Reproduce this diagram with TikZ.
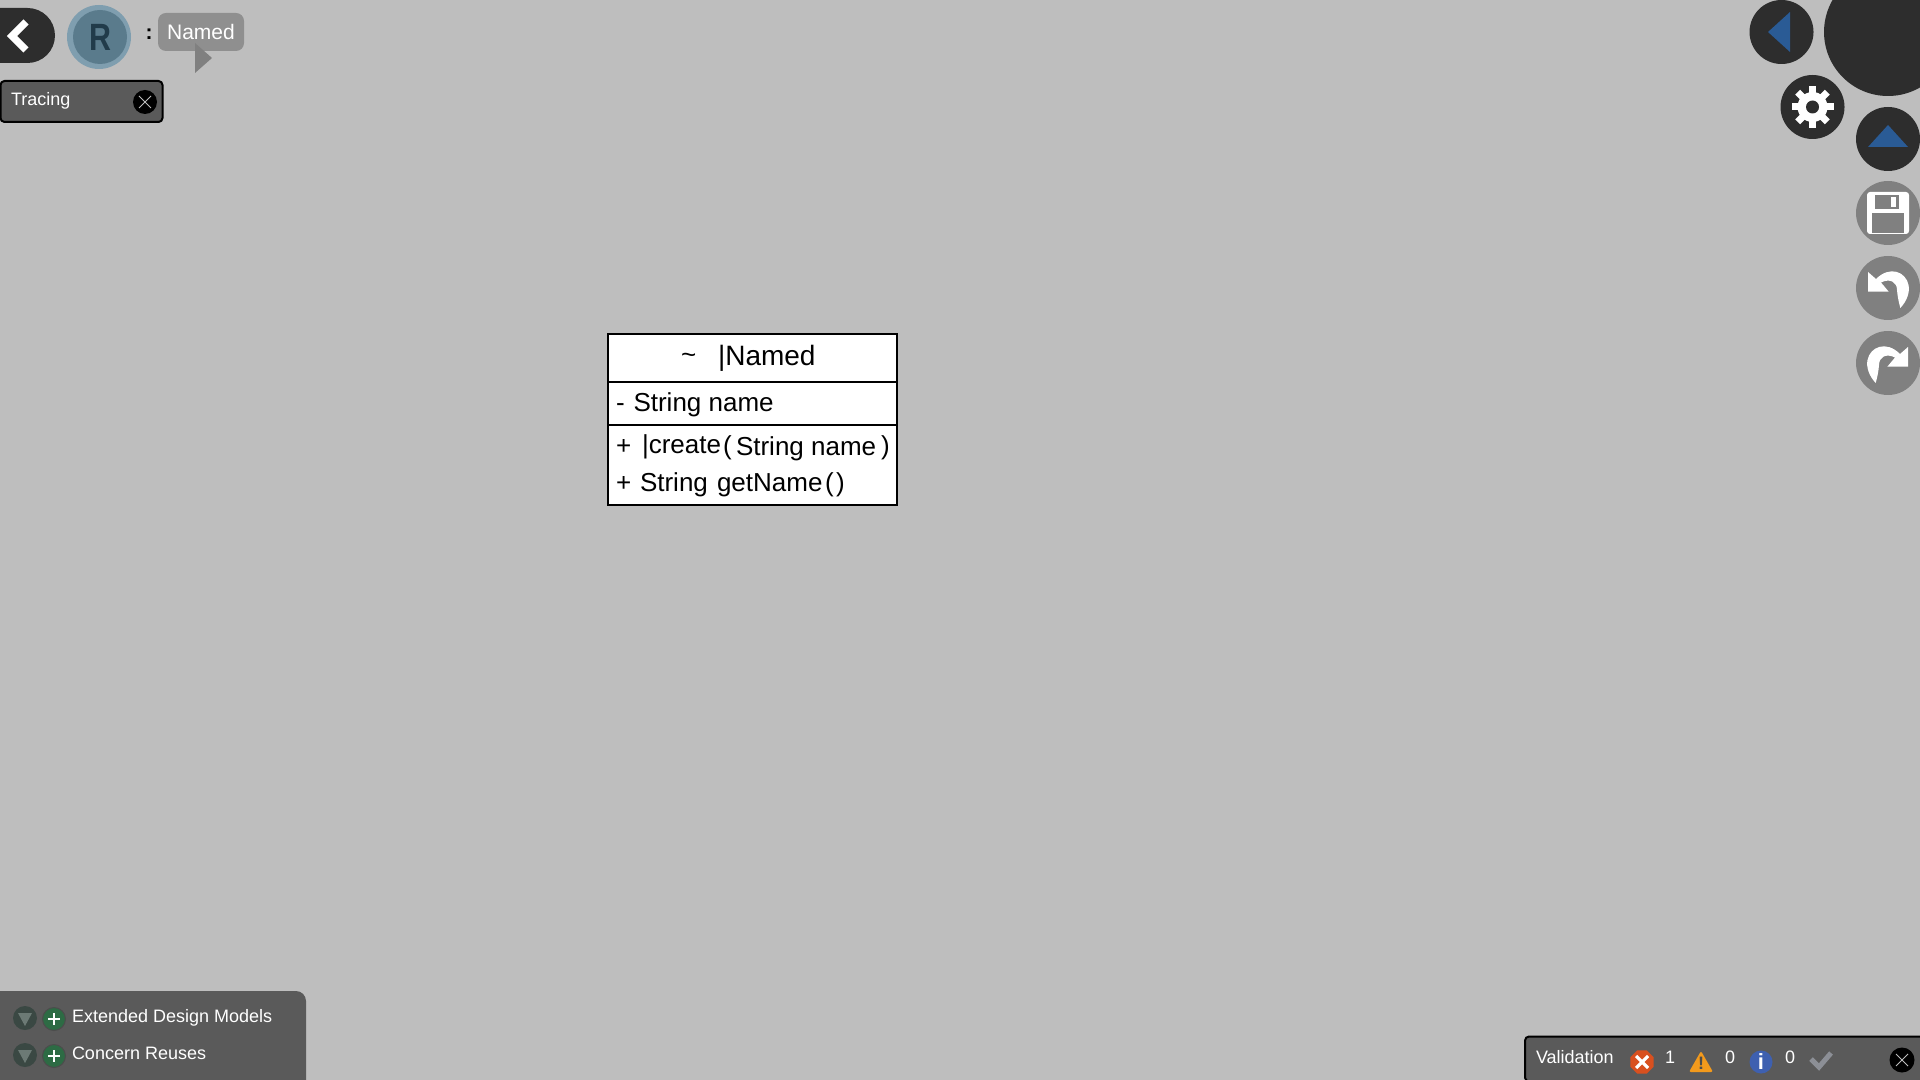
\documentclass[tikz,border=0pt]{standalone}
\usepackage{fontspec}
\usepackage{graphicx}
\setmainfont{Liberation Sans}
\usetikzlibrary{shapes.geometric}
\definecolor{canvas}{HTML}{BEBEBE}
\definecolor{btndark}{HTML}{2D2D2D}
\definecolor{btngrey}{HTML}{808080}
\definecolor{panel}{HTML}{5A5A5A}
\definecolor{arrowblue}{HTML}{2A5B95}
\definecolor{roleouter}{HTML}{7F9EAF}
\definecolor{roleinner}{HTML}{5A7B8C}
\definecolor{roletext}{HTML}{213B4A}
\definecolor{folddark}{HTML}{3A4843}
\definecolor{foldarrow}{HTML}{6C7A75}
\definecolor{addgreen}{HTML}{2D6B44}
\definecolor{errred}{HTML}{D8501F}
\definecolor{warnorange}{HTML}{F39A1C}
\definecolor{infoblue}{HTML}{3E60B0}
\definecolor{checkgrey}{HTML}{8C8F96}
\tikzset{
every node/.style={inner sep=0pt, outer sep=0pt},
roundbtn/.style={circle, minimum size=32pt}, % Sets the properties for each round button
darkbtn/.style={roundbtn, fill=btndark},
greybtn/.style={roundbtn, fill=btngrey},
closebtn/.style={circle, minimum size=12.5pt, fill=black},
foldbtn/.style={circle, minimum size=12pt, fill=folddark},
addbtn/.style={circle, minimum size=11.5pt, fill=addgreen, draw=black!70, line width=0.5pt},
panellabel/.style={anchor=base west, text=white, font=\fontsize{9}{11}\selectfont},
umlbox/.style={draw=black, fill=white, line width=1pt, minimum width=144.5pt},
umltext/.style={anchor=base west, text=black, font=\fontsize{13}{15}\selectfont},
turnarrow/.pic={ % Arrow of the undo button, mirrored for redo
\fill[white] (-20,-16) -- (-20,3.7) -- (0.7,3.7) -- (-7,-5.5)
  .. controls (2,-10) and (9,-6) .. (9,2)
  .. controls (9.5,9) and (11,15) .. (12.3,20)
  .. controls (19,13) and (22,4) .. (20.5,-3)
  .. controls (18,-16) and (2,-23) .. (-12,-9) -- cycle;
}}
\begin{document}
\begin{tikzpicture}[x=0.5pt,y=-0.5pt]
\useasboundingbox (0,0) rectangle (1920,1080);
\clip (0,0) rectangle (1920,1080);
\fill[canvas] (0,0) rectangle (1920,1080);
% top left
\fill[btndark, rounded corners=13.75pt] (-40,8) rectangle (55,63);
\draw[white, line width=3.6pt] (26,22) -- (12,36) -- (26,50);
\node[circle, minimum size=32pt, fill=roleouter] (rolering) at (99,37) {};
\node[circle, minimum size=27pt, fill=roleinner, text=roletext, font=\fontsize{19}{20}\bfseries\selectfont] (role) at (100,37) {\scalebox{0.8}[1]{R}};
\node[text=black, font=\fontsize{10.5}{12}\bfseries\selectfont] (colon) at (149,34) {:};
\node[rectangle, rounded corners=4pt, fill=gray!75!canvas, minimum width=43pt, minimum height=19pt, text=white, font=\fontsize{10.5}{12}\selectfont] (aspect) at (201,32) {\raisebox{0.5pt}{Named}};
\fill[btngrey] (195,43) -- (212,58) -- (195,73) -- cycle;
\node[rectangle, rounded corners=2pt, fill=panel, draw=black, line width=1pt, minimum width=81pt, minimum height=20.5pt] (tracing) at (81.5,101.5) {};
\node[panellabel] (tracinglabel) at (11,106) {Tracing};
\node[closebtn, minimum size=12pt] (tracingclose) at (145,102) {};
\draw[canvas, line width=0.5pt] (139,96) -- (151,108) (139,108) -- (151,96);
% top right
\node[darkbtn] (viewbtn) at (1781.5,32) {};
\fill[arrowblue] (1768,32) -- (1790,12) -- (1790,52) -- cycle;
\node[circle, minimum size=64pt, fill=btndark] (menubtn) at (1888,32) {};
\node[darkbtn] (gearbtn) at (1812.5,107) {};
\begin{scope}[shift={(1812.5,107)}]
\fill[white] (0,0) circle (15);
\foreach \a in {0,45,...,315}
  \draw[white, line width=3.5pt] (0:0)+(\a:10) -- +(\a:21);
\fill[btndark] (0,0) circle (6.5);
\end{scope}
\node[darkbtn] (upbtn) at (1888,139) {};
\fill[arrowblue] (1888,125) -- (1908,147) -- (1868,147) -- cycle;
\node[greybtn] (savebtn) at (1888,213) {};
\fill[white, rounded corners=1.5pt] (1867,192) rectangle (1909,234);
\fill[btngrey] (1875,195) rectangle (1899,209);
\fill[white] (1891,197) rectangle (1896,207);
\fill[btngrey] (1872,213) rectangle (1904,233);
\node[greybtn] (undobtn) at (1888,288) {};
\pic at (1888,288) {turnarrow};
\node[greybtn] (redobtn) at (1888,363) {};
\pic[xscale=-1] at (1888,363) {turnarrow};
% class
\node[umlbox, minimum height=24pt] (classhead) at (752.5,358) {};
\node[umlbox, minimum height=21.5pt] (classattr) at (752.5,403.5) {};
\node[umlbox, minimum height=40pt] (classops) at (752.5,465) {};
\node[umltext] (classvis) at (681,364) {\char`\~};
\node[umltext, font=\fontsize{14}{15}\selectfont] (classname) at (718,365) {|Named};
\node[umltext] (attrvis) at (616,411) {-};
\node[umltext] (attrname) at (633.5,411) {String name};
\node[umltext] (createvis) at (616,454) {+};
\node[umltext] (createname) at (642,453) {|create};
\node[umltext] (createparen) at (723,454) {(};
\node[umltext] (createparam) at (736,455) {String name};
\node[umltext] (createclose) at (881,454) {)};
\node[umltext] (getvis) at (616,491) {+};
\node[umltext] (getname) at (640,491) {String};
\node[umltext] (getmethod) at (717,491) {getName};
\node[umltext] (getparen) at (825,491) {(};
\node[umltext] (getclose) at (836,491) {)};
% bottom left
\fill[panel, rounded corners=5pt] (-20,991) rectangle (306,1100);
\foreach \y/\n in {1018/a,1055/b} {
\node[foldbtn] (fold\n) at (25,\y) {};
\fill[foldarrow] (18,\y-5) -- (32,\y-5) -- (25,\y+8) -- cycle;
\node[addbtn] (add\n) at (54,\y+1) {};
\draw[white, line width=0.6pt] (48,\y+1) -- (60,\y+1) (54,\y-5) -- (54,\y+7);
}
\node[panellabel] (modelslabel) at (72,1022) {Extended Design Models};
\node[panellabel] (reuseslabel) at (72,1059) {Concern Reuses};
% bottom right
\node[rectangle, rounded corners=2pt, fill=panel, draw=black, line width=1pt, minimum width=210pt, minimum height=22.5pt] (validation) at (1735,1059) {};
\node[panellabel] (validationlabel) at (1536,1063) {Validation};
\node[regular polygon, regular polygon sides=8, minimum size=12.5pt, fill=errred] (erricon) at (1642,1062) {};
\draw[white, line width=1.6pt] (1636,1056) -- (1648,1068) (1636,1068) -- (1648,1056);
\node[panellabel] (errcount) at (1665,1063) {1};
\fill[warnorange, rounded corners=1pt] (1701,1051) -- (1713,1072) -- (1689,1072) -- cycle;
\node[text=black!70, font=\fontsize{9}{9}\bfseries\selectfont] (warnicon) at (1701,1063) {!};
\node[panellabel] (warncount) at (1725,1063) {0};
\node[circle, minimum size=11.5pt, fill=infoblue, text=white, font=\fontsize{11}{11}\bfseries\selectfont] (infoicon) at (1761,1062) {i};
\node[panellabel] (infocount) at (1785,1063) {0};
\draw[checkgrey, line width=2.5pt] (1811,1059) -- (1819,1067) -- (1831,1053);
\node[closebtn] (validationclose) at (1902,1060) {};
\draw[canvas, line width=0.5pt] (1896,1054) -- (1908,1066) (1896,1066) -- (1908,1054);
\end{tikzpicture}
\end{document}
